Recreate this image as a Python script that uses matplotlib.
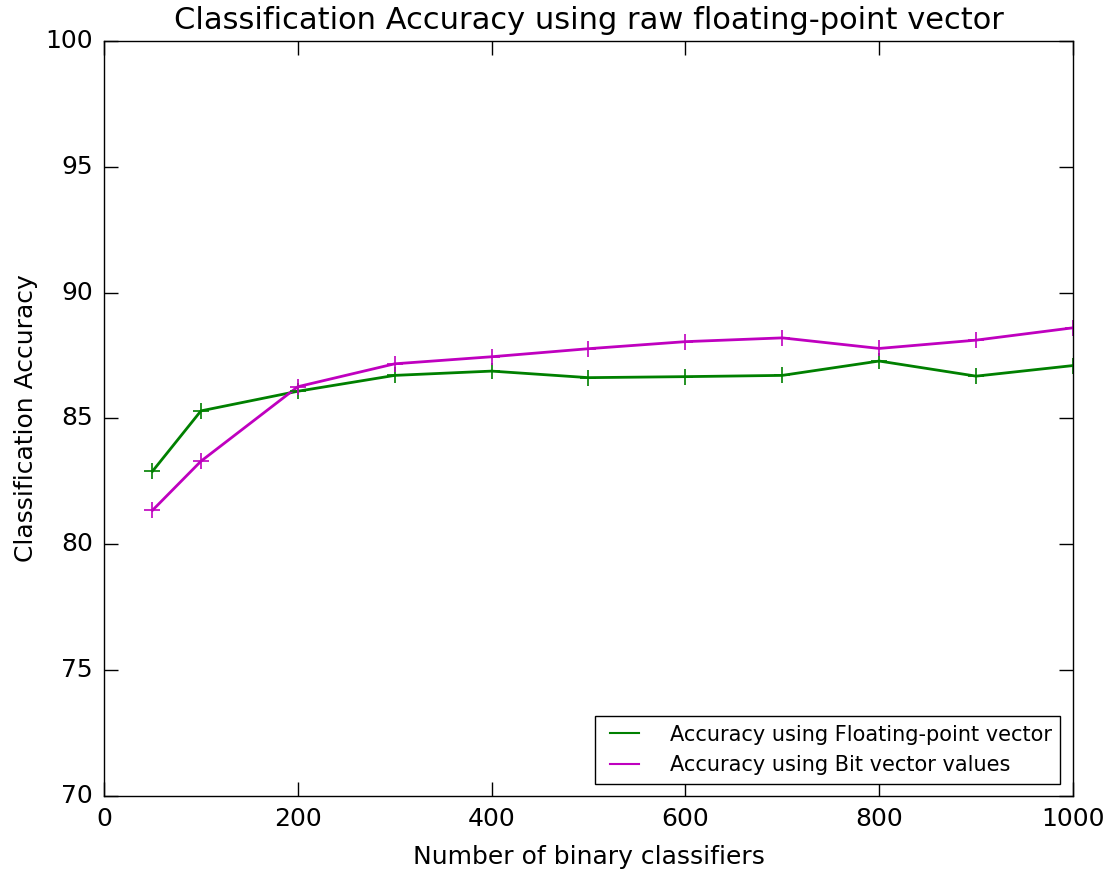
import numpy as np
import matplotlib as mpl
import matplotlib.pyplot as plt

# data
n_classifiers = [50, 100, 200, 300, 400, 500, 600, 700, 800, 900, 1000]
acc_float = [82.9, 85.3, 86.08, 86.71, 86.88, 86.62, 86.66, 86.71, 87.28, 86.68, 87.1]
acc_bit = [81.35, 83.3, 86.26, 87.17, 87.45, 87.77, 88.05, 88.2, 87.78, 88.11, 88.6]

plt.style.use('classic')
mpl.rcParams['figure.facecolor'] = 'white'
mpl.rcParams['savefig.facecolor'] = 'white'

fig = plt.figure(figsize=(11.09, 8.71), dpi=100)
ax = fig.add_axes([0.0938, 0.0861, 0.8737, 0.867])

ax.plot(n_classifiers, acc_float, color='g', linewidth=2, label='Accuracy using Floating-point vector')
ax.plot(n_classifiers, acc_bit, color='m', linewidth=2, label='Accuracy using Bit vector values')
# '+' markers drawn on their own so the legend only shows lines
ax.plot(n_classifiers, acc_float, 'g+', markersize=12, markeredgewidth=1.2)
ax.plot(n_classifiers, acc_bit, 'm+', markersize=12, markeredgewidth=1.2)

ax.set_xlim(0, 1000)
ax.set_ylim(70, 100)
ax.set_xticks([0, 200, 400, 600, 800, 1000])
ax.set_yticks([70, 75, 80, 85, 90, 95, 100])
ax.tick_params(labelsize=18, length=10, width=1, pad=8)

ax.set_title('Classification Accuracy using raw floating-point vector', fontsize=22, y=1.006)
ax.set_xlabel('Number of binary classifiers', fontsize=18, labelpad=10)
ax.set_ylabel('Classification Accuracy', fontsize=18)
leg = ax.legend(loc='lower right', fontsize=15, handlelength=2.0, handletextpad=1.2,
                borderaxespad=0.6)
for ln in leg.get_lines():
    ln.set_linewidth(1.5)

plt.savefig('out.png', dpi=100)
